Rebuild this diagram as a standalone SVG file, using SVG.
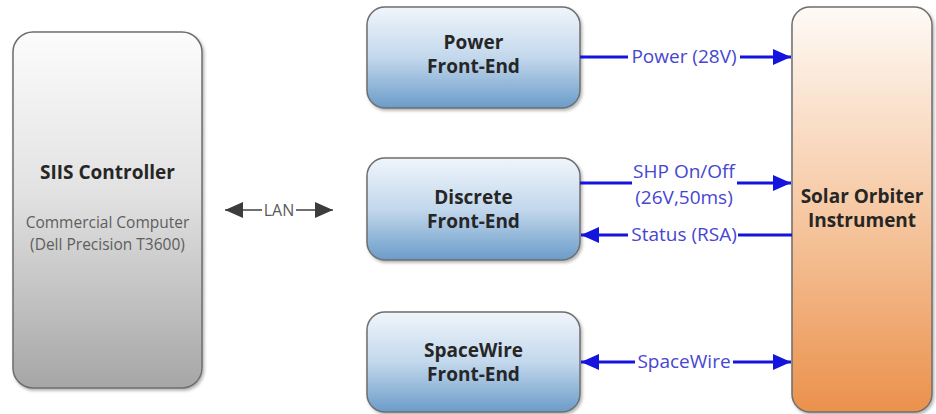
<svg xmlns="http://www.w3.org/2000/svg" width="936" height="414" viewBox="0 0 936 414">
<defs>
  <linearGradient id="gGray" x1="0" y1="0" x2="0" y2="1">
    <stop offset="0" stop-color="#fcfcfc"/>
    <stop offset="0.45" stop-color="#e2e2e2"/>
    <stop offset="1" stop-color="#a6a6a6"/>
  </linearGradient>
  <linearGradient id="gBlue" x1="0" y1="0" x2="0" y2="1">
    <stop offset="0" stop-color="#f0f5fb"/>
    <stop offset="0.5" stop-color="#c3d8ec"/>
    <stop offset="1" stop-color="#6a9cc9"/>
  </linearGradient>
  <linearGradient id="gOrange" x1="0" y1="0" x2="0" y2="1">
    <stop offset="0" stop-color="#fefaf6"/>
    <stop offset="0.5" stop-color="#f6c9a4"/>
    <stop offset="1" stop-color="#eb914c"/>
  </linearGradient>
  <filter id="shadow" x="-10%" y="-10%" width="130%" height="130%">
    <feDropShadow dx="1.5" dy="2" stdDeviation="1.5" flood-color="#000" flood-opacity="0.3"/>
  </filter>
  <marker id="blueHead" markerUnits="userSpaceOnUse" markerWidth="18" markerHeight="16" refX="18" refY="8" orient="auto-start-reverse">
    <path d="M0,0 L18,8 L0,16 z" fill="#1414dc"/>
  </marker>
  <marker id="grayHead" markerUnits="userSpaceOnUse" markerWidth="18" markerHeight="16" refX="18" refY="8" orient="auto-start-reverse">
    <path d="M0,0 L18,8 L0,16 z" fill="#3c3c3c"/>
  </marker>
</defs>
<style>
  .box { stroke: #6e6e6e; stroke-width: 1.5; filter: url(#shadow); }
  .title { font-family: "Open Sans", "Liberation Sans", sans-serif; font-weight: bold; font-size: 19px; fill: #262626; text-anchor: middle; }
  .sub { font-family: "Open Sans", "Liberation Sans", sans-serif; font-size: 15.5px; fill: #5e5e5e; text-anchor: middle; }
  .wire { stroke: #1414dc; stroke-width: 3; fill: none; }
  .wlabel { font-family: "Open Sans", "Liberation Sans", sans-serif; font-size: 19px; fill: #4646d2; text-anchor: middle; }
  .lan { stroke: #707070; stroke-width: 2; fill: none; }
  .lanlabel { font-family: "Open Sans", "Liberation Sans", sans-serif; font-size: 16px; fill: #5a5a5a; text-anchor: middle; }
</style>

<g id="siis-controller">
  <rect class="box" x="13" y="32" width="189" height="356" rx="20" fill="url(#gGray)"/>
  <text class="title" x="107.5" y="179">SIIS Controller</text>
  <text class="sub" x="107.5" y="228">Commercial Computer</text>
  <text class="sub" x="107.5" y="250">(Dell Precision T3600)</text>
</g>

<g id="power-front-end">
  <rect class="box" x="367" y="7" width="213" height="101" rx="18" fill="url(#gBlue)"/>
  <text class="title" x="473.5" y="49">Power</text>
  <text class="title" x="473.5" y="73">Front-End</text>
</g>

<g id="discrete-front-end">
  <rect class="box" x="367" y="158" width="213" height="102" rx="18" fill="url(#gBlue)"/>
  <text class="title" x="473.5" y="204">Discrete</text>
  <text class="title" x="473.5" y="228">Front-End</text>
</g>

<g id="spacewire-front-end">
  <rect class="box" x="367" y="312" width="213" height="100" rx="18" fill="url(#gBlue)"/>
  <text class="title" x="473.5" y="357">SpaceWire</text>
  <text class="title" x="473.5" y="381">Front-End</text>
</g>

<g id="solar-orbiter-instrument">
  <rect class="box" x="792" y="7" width="140" height="405" rx="18" fill="url(#gOrange)"/>
  <text class="title" x="862" y="203">Solar Orbiter</text>
  <text class="title" x="862" y="227">Instrument</text>
</g>

<g id="connectors">
  <!-- LAN -->
  <line class="lan" x1="225" y1="210" x2="262" y2="210" marker-start="url(#grayHead)"/>
  <line class="lan" x1="296" y1="210" x2="333" y2="210" marker-end="url(#grayHead)"/>
  <text class="lanlabel" x="279" y="216">LAN</text>

  <!-- Power (28V) -->
  <line class="wire" x1="580" y1="57" x2="628" y2="57"/>
  <line class="wire" x1="740" y1="57" x2="791" y2="57" marker-end="url(#blueHead)"/>
  <text class="wlabel" x="684" y="63">Power (28V)</text>

  <!-- SHP On/Off -->
  <line class="wire" x1="580" y1="183" x2="632" y2="183"/>
  <line class="wire" x1="737" y1="183" x2="791" y2="183" marker-end="url(#blueHead)"/>
  <text class="wlabel" x="684" y="178">SHP On/Off</text>
  <text class="wlabel" x="684" y="204">(26V,50ms)</text>

  <!-- Status (RSA) -->
  <line class="wire" x1="581" y1="235" x2="628" y2="235" marker-start="url(#blueHead)"/>
  <line class="wire" x1="738" y1="235" x2="792" y2="235"/>
  <text class="wlabel" x="684" y="241">Status (RSA)</text>

  <!-- SpaceWire -->
  <line class="wire" x1="581" y1="362" x2="635" y2="362" marker-start="url(#blueHead)"/>
  <line class="wire" x1="733" y1="362" x2="791" y2="362" marker-end="url(#blueHead)"/>
  <text class="wlabel" x="684" y="368">SpaceWire</text>
</g>
</svg>
